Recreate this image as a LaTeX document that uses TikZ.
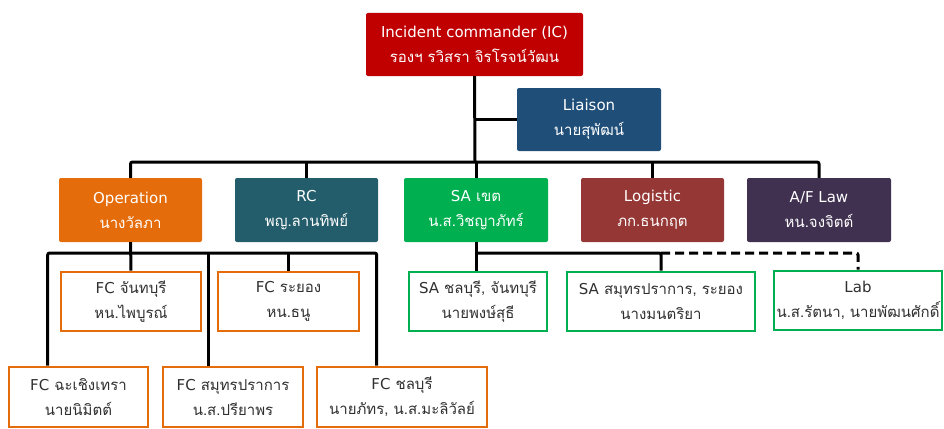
\documentclass[tikz,border=0pt]{standalone}
\usepackage{fontspec}
\setmainfont[Script=Thai]{Loma}
\newfontfamily\lat{DejaVu Sans}
\usepackage{tikz}
\usetikzlibrary{shapes,arrows}
\definecolor{icred}{HTML}{C00000}
\definecolor{liblue}{HTML}{1F4E79}
\definecolor{opor}{HTML}{E46C0A}
\definecolor{rcteal}{HTML}{235C6B}
\definecolor{sagreen}{HTML}{00B050}
\definecolor{logred}{HTML}{953735}
\definecolor{afpurple}{HTML}{403151}
\definecolor{txt}{HTML}{303030}
\tikzstyle{box} = [rectangle, align=center, inner sep=2, minimum height=62, font=\fontsize{15}{25}\selectfont]
\tikzstyle{head} = [box, rounded corners=2, text=white]
\tikzstyle{fcbox} = [box, draw=opor, line width=2.6, fill=white, text=txt]
\tikzstyle{sabox} = [box, draw=sagreen, line width=2.6, fill=white, text=txt]
\tikzstyle{conn} = [draw, line width=3, rounded corners=2]

\begin{document}
\begin{tikzpicture}[x=1pt, y=-1pt]

	\useasboundingbox (0,0) rectangle (944,428);

	% nodes
	\node[head, fill=icred, minimum width=217, minimum height=63] (ic) at (474.5, 44.5) {{\lat Incident commander (IC)}\\รองฯ รวิสรา จิรโรจน์วัฒน};
	\node[head, fill=liblue, minimum width=144, minimum height=63] (liaison) at (589, 119.5) {{\lat Liaison}\\นายสุพัฒน์};

	\node[head, fill=opor, minimum width=143, minimum height=64] (op) at (130.5, 210) {{\lat Operation}\\นางวัลภา};
	\node[head, fill=rcteal, minimum width=143, minimum height=64] (rc) at (306.5, 210) {{\lat RC}\\พญ.ลานทิพย์};
	\node[head, fill=sagreen, minimum width=144, minimum height=64] (sa) at (476, 210) {{\lat SA} เขต\\น.ส.วิชญาภัทร์};
	\node[head, fill=logred, minimum width=143, minimum height=64] (log) at (652.5, 210) {{\lat Logistic}\\ภก.ธนกฤต};
	\node[head, fill=afpurple, minimum width=144, minimum height=64] (af) at (819, 210) {{\lat A/F Law}\\หน.จงจิตต์};

	\node[fcbox, minimum width=140, minimum height=59] (fc1) at (131, 301.5) {{\lat FC} จันทบุรี\\หน.ไพบูรณ์};
	\node[fcbox, minimum width=141, minimum height=59] (fc2) at (288.5, 301.5) {{\lat FC} ระยอง\\หน.ธนู};
	\node[fcbox, minimum width=139, minimum height=60] (fc3) at (78.5, 397) {{\lat FC} ฉะเชิงเทรา\\นายนิมิตต์};
	\node[fcbox, minimum width=140, minimum height=60] (fc4) at (233, 397) {{\lat FC} สมุทรปราการ\\น.ส.ปรียาพร};
	\node[fcbox, minimum width=170, minimum height=60] (fc5) at (402, 397) {{\lat FC} ชลบุรี\\นายภัทร, น.ส.มะลิวัลย์};

	\node[sabox, minimum width=138, minimum height=59] (sa1) at (478, 301.5) {{\lat SA} ชลบุรี, จันทบุรี\\นายพงษ์สุธี};
	\node[sabox, minimum width=188, minimum height=59] (sa2) at (661, 301.5) {{\lat SA} สมุทรปราการ, ระยอง\\นางมนตริยา};
	\node[sabox, minimum width=168, minimum height=59] (lab) at (858, 300.5) {{\lat Lab}\\น.ส.รัตนา, นายพัฒนศักดิ์};

	\coordinate (bus) at (475, 162);
	\coordinate (opbus) at (130.5, 253);
	\coordinate (sabus) at (476, 253);
	\path ([xshift=40]fc3.north west) coordinate (fc3in);
	\path ([xshift=47]fc4.north west) coordinate (fc4in);
	\path ([xshift=61]fc5.north west) coordinate (fc5in);

	% lines
	\draw [conn] (ic.south) -- (bus);
	\draw [conn] (liaison.west) -- (liaison.west -| ic.south);
	\draw [conn] (op.north) |- (bus) -| (af.north);
	\foreach \n in {rc, sa, log}
		\draw [conn] (\n.north) -- (\n.north |- bus);

	\draw [conn] (op) -- (fc1);
	\draw [conn] (fc3in) |- (opbus) -| (fc5in);
	\draw [conn] (fc2.north) -- (fc2.north |- opbus);
	\draw [conn] (fc4in) -- (fc4in |- opbus);

	\draw [conn] (sa.south) -- (sa.south |- sa1.north);
	\draw [conn] (sabus) -| (sa2.north);
	\draw [conn, dashed, dash pattern=on 9 off 5] (sa2.north |- sabus) -| (lab.north);

\end{tikzpicture}
\end{document}
